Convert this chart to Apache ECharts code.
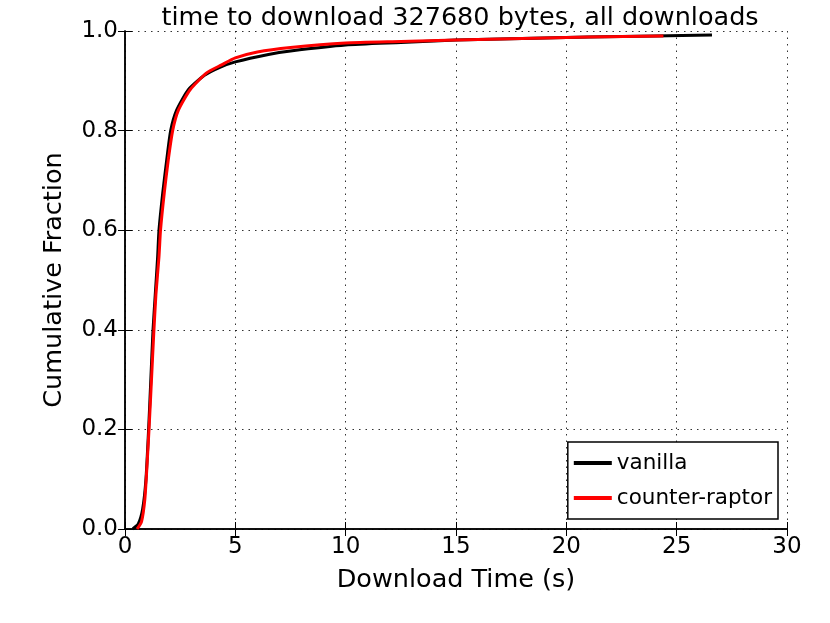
<!DOCTYPE html>
<html>
<head>
<meta charset="utf-8">
<script src="https://cdn.jsdelivr.net/npm/echarts@6/dist/echarts.min.js"></script>
<style>
  html, body { margin: 0; padding: 0; background: #fff; }
  #chart { width: 830px; height: 623px; }
</style>
</head>
<body>
<div id="chart"></div>
<script>
  // download time (s) / cumulative fraction
  var vanillaX = [0.35, 0.6, 0.8, 0.95, 1.07, 1.17, 1.27, 1.37, 1.48, 1.54, 1.71, 1.89, 2.07, 2.34, 2.87, 3.6, 4.3, 5, 6.5, 7.5, 10, 12.5, 15, 18, 21, 24, 26.6];
  var vanillaY = [0, 0.01, 0.04, 0.1, 0.2, 0.3, 0.4, 0.47, 0.547, 0.6, 0.675, 0.741, 0.8, 0.841, 0.882, 0.911, 0.927, 0.938, 0.953, 0.96, 0.972, 0.977, 0.982, 0.985, 0.988, 0.99, 0.992];
  var raptorX = [0.55, 0.75, 0.9, 1.0, 1.1, 1.2, 1.3, 1.4, 1.54, 1.61, 1.78, 1.96, 2.16, 2.42, 2.95, 3.7, 4.38, 5, 6, 7.5, 10, 12.5, 15, 18, 21, 24.4];
  var raptorY = [0, 0.015, 0.06, 0.13, 0.21, 0.3, 0.39, 0.47, 0.547, 0.6, 0.675, 0.741, 0.8, 0.841, 0.882, 0.916, 0.932, 0.946, 0.958, 0.967, 0.976, 0.979, 0.982, 0.985, 0.988, 0.99];
  var seriesNames = ['vanilla', 'counter-raptor'];

  function pairs(xs, ys) {
    return xs.map(function (x, i) { return [x, ys[i]]; });
  }

  var font = 'DejaVu Sans';
  var chart = echarts.init(document.getElementById('chart'));

  var baseAxis = {
    axisLine: { show: true, lineStyle: { color: '#000', width: 1.5 } },
    axisTick: { show: true, inside: true, length: 7, lineStyle: { color: '#000', width: 1 } },
    splitLine: { show: false },
    axisLabel: { show: false }
  };
  var gridLine = { show: true, lineStyle: { color: '#000', type: [1.5, 5], width: 1, opacity: 0.8 } };

  chart.setOption({
    animation: false,
    backgroundColor: '#fff',
    title: {
      text: 'time to download 327680 bytes, all downloads',
      left: 455, top: 0, textAlign: 'center',
      textStyle: { fontFamily: font, fontSize: 25.5, fontWeight: 'normal', color: '#000' }
    },
    grid: { left: 125, right: 43, top: 31, bottom: 94 },
    legend: {
      orient: 'vertical',
      right: 52, bottom: 104,
      data: seriesNames,
      icon: 'rect',
      itemWidth: 38, itemHeight: 4,
      itemGap: 13,
      padding: [10, 6, 10, 6],
      borderColor: '#000', borderWidth: 1.5,
      backgroundColor: '#fff',
      textStyle: { fontFamily: font, fontSize: 21.5, color: '#000' }
    },
    xAxis: [
      Object.assign({}, baseAxis, {
        type: 'value', min: 0, max: 30, interval: 5,
        name: 'Download Time (s)', nameLocation: 'middle', nameGap: 38,
        nameTextStyle: { fontFamily: font, fontSize: 25.5, color: '#000' },
        axisLabel: { show: true, fontFamily: font, fontSize: 23, color: '#000', margin: 7 },
        splitLine: gridLine
      }),
      Object.assign({}, baseAxis, { type: 'value', position: 'top', min: 0, max: 30, interval: 5 })
    ],
    yAxis: [
      Object.assign({}, baseAxis, {
        type: 'value', min: 0, max: 1, interval: 0.2,
        name: 'Cumulative Fraction', nameLocation: 'middle', nameGap: 58,
        nameTextStyle: { fontFamily: font, fontSize: 25.5, color: '#000' },
        axisLabel: { show: true, fontFamily: font, fontSize: 23, color: '#000', margin: 7,
          formatter: function (v) { return v.toFixed(1); } },
        splitLine: gridLine
      }),
      Object.assign({}, baseAxis, { type: 'value', position: 'right', min: 0, max: 1, interval: 0.2 })
    ],
    series: [
      {
        name: seriesNames[0], type: 'line', data: pairs(vanillaX, vanillaY),
        showSymbol: false, smooth: 0.2, color: '#000',
        lineStyle: { color: '#000', width: 3 }
      },
      {
        name: seriesNames[1], type: 'line', data: pairs(raptorX, raptorY),
        showSymbol: false, smooth: 0.2, color: '#ff0000',
        lineStyle: { color: '#ff0000', width: 3 }
      }
    ]
  });
</script>
</body>
</html>
